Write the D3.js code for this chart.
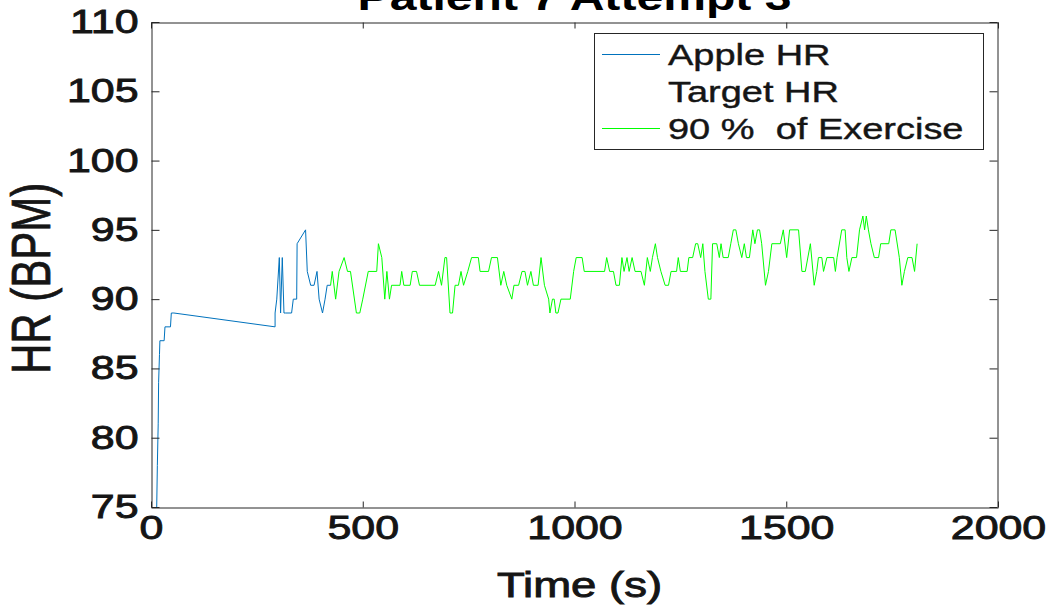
<!DOCTYPE html>
<html>
<head>
<meta charset="utf-8">
<script src="https://cdn.jsdelivr.net/npm/d3@7"></script>
<style>
  body { margin: 0; background: #fff; }
  svg { display: block; font-family: "Liberation Sans", Arial, sans-serif; }
</style>
</head>
<body>
<svg id="chart" width="1052" height="607"></svg>
<script>
// 数据
const xTicks = [0, 500, 1000, 1500, 2000];
const yTicks = [75, 80, 85, 90, 95, 100, 105, 110];
const legendLabels = ['Apple HR', 'Target HR', '90 %  of Exercise'];

// Apple HR (蓝线)
const appleT = [13, 15, 17, 18, 20, 21, 31, 33, 46, 48, 54, 293, 293, 297, 303, 306, 310, 314, 318, 332, 336, 344, 345, 365, 369, 377, 385, 392, 397, 405, 411, 416, 424];
const appleHR = [74, 78, 81, 84, 86, 87, 87, 88, 88, 89, 89, 88, 89, 90, 93, 89, 93, 89, 89, 89, 90, 90, 94, 95, 92, 91, 91, 92, 90, 89, 90, 91, 91];

// 90 % of Exercise (绿线)
const exT = [424, 428, 436, 444, 456, 464, 471, 485, 493, 500, 513, 533, 537, 545, 552, 557, 563, 568, 588, 592, 597, 612, 617, 627, 634, 671, 679, 686, 694, 698, 706, 712, 718, 726, 732, 738, 748, 757, 773, 777, 797, 804, 818, 826, 833, 840, 852, 857, 868, 876, 883, 889, 897, 903, 914, 921, 929, 939, 942, 948, 952, 956, 961, 968, 990, 998, 1004, 1018, 1023, 1071, 1076, 1083, 1092, 1098, 1106, 1112, 1117, 1124, 1129, 1136, 1143, 1157, 1165, 1172, 1179, 1184, 1191, 1196, 1204, 1214, 1222, 1228, 1241, 1245, 1250, 1266, 1270, 1279, 1286, 1291, 1298, 1303, 1308, 1316, 1322, 1326, 1336, 1342, 1346, 1351, 1363, 1369, 1375, 1381, 1387, 1395, 1401, 1406, 1413, 1421, 1426, 1432, 1437, 1442, 1451, 1458, 1466, 1486, 1493, 1501, 1508, 1529, 1537, 1545, 1557, 1566, 1572, 1576, 1584, 1588, 1596, 1612, 1616, 1620, 1631, 1639, 1643, 1648, 1655, 1666, 1673, 1681, 1685, 1689, 1694, 1700, 1708, 1718, 1723, 1742, 1747, 1757, 1767, 1773, 1779, 1787, 1797, 1803, 1809];
const exHR = [91, 92, 90, 92, 93, 92, 92, 89, 89, 90, 92, 92, 94, 93, 90, 92, 90, 91, 91, 92, 91, 91, 92, 92, 91, 91, 92, 91, 93, 93, 89, 89, 91, 91, 92, 91, 92, 93, 93, 92, 92, 93, 93, 91, 92, 91, 90, 91, 91, 92, 92, 91, 92, 91, 91, 93, 91, 90, 89, 90, 90, 89, 89, 90, 90, 92, 93, 93, 92, 92, 93, 92, 92, 91, 91, 93, 92, 93, 92, 93, 92, 92, 91, 93, 92, 93, 94, 93, 92, 91, 91, 92, 92, 93, 92, 92, 93, 93, 94, 94, 93, 94, 92, 90, 90, 94, 94, 93, 94, 93, 93, 94, 95, 95, 94, 93, 94, 93, 93, 95, 94, 95, 95, 94, 91, 92, 94, 94, 95, 93, 95, 95, 92, 92, 94, 91, 92, 93, 93, 92, 93, 93, 92, 93, 95, 95, 93, 92, 93, 93, 95, 96, 95, 96, 95, 94, 93, 93, 94, 94, 95, 95, 93, 91, 92, 93, 93, 92, 94];

//常量
const axisColor = '#262626';
const textColor = '#151515';
const stretch = 1.3;   // 原图文字横向拉伸
const plotL = 151, plotR = 998, plotT = 22, plotB = 507;

const svg = d3.select('#chart');

const x = d3.scaleLinear().domain([0, 2000]).range([plotL, plotR]);
const y = d3.scaleLinear().domain([75, 110]).range([plotB, plotT]);

svg.append('defs').append('clipPath').attr('id', 'plotClip')
    .append('rect')
    .attr('x', plotL).attr('y', plotT)
    .attr('width', plotR - plotL).attr('height', plotB - plotT);

//画线
const line = d3.line().x(d => x(d[0])).y(d => y(d[1]));
const plot = svg.append('g').attr('clip-path', 'url(#plotClip)');

plot.append('path')
    .datum(d3.zip(appleT, appleHR))
    .attr('d', line)
    .attr('fill', 'none')
    .attr('stroke', '#0072BD')
    .attr('stroke-width', 1);

plot.append('path')
    .datum(d3.zip(exT, exHR))
    .attr('d', line)
    .attr('fill', 'none')
    .attr('stroke', '#00FF00')
    .attr('stroke-width', 1);

//坐标轴
function styleAxis(g) {
    g.select('.domain').attr('stroke', axisColor);
    g.selectAll('.tick line').attr('stroke', axisColor);
    g.selectAll('.tick text')
        .attr('fill', textColor)
        .attr('stroke', textColor)
        .attr('stroke-width', 0.9)
        .style('font-size', '33px');
}

svg.append('g')
    .attr('transform', `translate(0,${plotB + 0.5})`)
    .call(d3.axisBottom(x).tickValues(xTicks).tickFormat(d3.format('d')).tickSize(-6).tickSizeOuter(0).tickPadding(8))
    .call(styleAxis)
    .call(g => g.selectAll('.tick text').attr('dy', '0.71em').attr('transform', `scale(${stretch},1)`));

svg.append('g')
    .attr('transform', `translate(0,${plotT + 0.5})`)
    .call(d3.axisTop(x).tickValues(xTicks).tickSize(-6).tickSizeOuter(0).tickFormat(''))
    .call(styleAxis);

svg.append('g')
    .attr('transform', `translate(${plotL + 0.5},0)`)
    .call(d3.axisLeft(y).tickValues(yTicks).tickFormat(d3.format('d')).tickSize(-8).tickSizeOuter(0).tickPadding(10))
    .call(styleAxis)
    .call(g => g.selectAll('.tick text').attr('transform', `scale(${stretch},1)`));

svg.append('g')
    .attr('transform', `translate(${plotR - 0.5},0)`)
    .call(d3.axisRight(y).tickValues(yTicks).tickSize(-8).tickSizeOuter(0).tickFormat(''))
    .call(styleAxis);

//标题和轴标签 (标题在原图中被顶部截断)
svg.append('text')
    .attr('transform', `translate(${(plotL + plotR) / 2},10) scale(${stretch},1)`)
    .attr('text-anchor', 'middle')
    .style('font-size', '37px')
    .style('font-weight', 'bold')
    .text('Patient 7 Attempt 3');

svg.append('text')
    .attr('transform', `translate(${(plotL + plotR) / 2 + 5},597) scale(${stretch},1)`)
    .attr('text-anchor', 'middle')
    .attr('fill', textColor)
    .attr('stroke', textColor)
    .attr('stroke-width', 0.9)
    .style('font-size', '35px')
    .text('Time (s)');

svg.append('text')
    .attr('transform', `translate(50,${(plotT + plotB) / 2 + 14}) rotate(-90) scale(1,${stretch})`)
    .attr('text-anchor', 'middle')
    .attr('fill', textColor)
    .attr('stroke', textColor)
    .attr('stroke-width', 0.6)
    .style('font-size', '42px')
    .text('HR (BPM)');

//图例
const legend = svg.append('g');
legend.append('rect')
    .attr('x', 594.5).attr('y', 33.5)
    .attr('width', 389).attr('height', 116)
    .attr('fill', '#fff')
    .attr('stroke', axisColor);

const legendColors = ['#0072BD', null, '#00FF00'];
const rowY = [54, 91, 128];
legendLabels.forEach((label, i) => {
    if (legendColors[i]) {
        legend.append('line')
            .attr('x1', 602).attr('x2', 660)
            .attr('y1', rowY[i] + 0.5).attr('y2', rowY[i] + 0.5)
            .attr('stroke', legendColors[i]);
    }
    legend.append('text')
        .attr('transform', `translate(668,${rowY[i] + 11}) scale(1.31,1)`)
        .attr('fill', textColor)
        .attr('stroke', textColor)
        .attr('stroke-width', 0.4)
        .style('font-size', '29px')
        .style('white-space', 'pre')
        .text(label);
});
</script>
</body>
</html>
